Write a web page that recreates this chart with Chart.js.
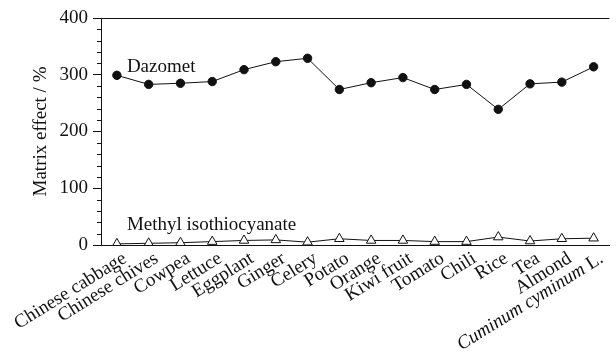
<!DOCTYPE html>
<html>
<head>
<meta charset="utf-8">
<script src="https://cdn.jsdelivr.net/npm/chart.js@4"></script>
<style>
  html, body { margin: 0; padding: 0; background: #fff; }
  #wrap { width: 616px; height: 358px; }
</style>
</head>
<body>
<div id="wrap"><canvas id="matrix-chart"></canvas></div>
<script>
const categories = ['Chinese cabbage', 'Chinese chives', 'Cowpea', 'Lettuce', 'Eggplant', 'Ginger', 'Celery', 'Potato',
    'Orange', 'Kiwi fruit', 'Tomato', 'Chili', 'Rice', 'Tea', 'Almond', 'Cuminum cyminum L.'];
const dazomet = [299, 283, 285, 288, 309, 323, 329, 274, 286, 295, 274, 283, 239, 284, 287, 314];
const mitc = [2, 3, 4, 6, 8, 9, 5, 11, 8, 8, 6, 6, 14, 7, 11, 12];
const yTicks = [0, 100, 200, 300, 400];

const FONT = '"Liberation Serif", "Times New Roman", serif';
const INK = '#111';

// extra drawing: frame top line, minor ticks, rotated x labels, series names
const decor = {
    id: 'decor',
    afterDraw(chart) {
        const ctx = chart.ctx;
        const area = chart.chartArea;
        const x = chart.scales.x;
        const y = chart.scales.y;
        ctx.save();
        ctx.strokeStyle = INK;
        ctx.lineWidth = 1;

        // top frame line
        ctx.beginPath();
        ctx.moveTo(area.left, Math.round(area.top) + 0.5);
        ctx.lineTo(area.right, Math.round(area.top) + 0.5);
        ctx.stroke();

        // minor ticks every 20
        for (let v = 20; v < 400; v += 20) {
            if (v % 100 === 0) continue;
            const py = Math.round(y.getPixelForValue(v)) + 0.5;
            ctx.beginPath();
            ctx.moveTo(area.left - 4, py);
            ctx.lineTo(area.left, py);
            ctx.stroke();
        }

        // rotated category labels
        ctx.fillStyle = INK;
        ctx.textAlign = 'right';
        ctx.textBaseline = 'top';
        categories.forEach((label, i) => {
            const px = x.getPixelForTick(i);
            ctx.save();
            ctx.translate(px + 3, area.bottom + 4);
            ctx.rotate(-32 * Math.PI / 180);
            if (label === 'Cuminum cyminum L.') {
                ctx.font = '19px ' + FONT;
                const tail = ' L.';
                ctx.fillText(tail, 0, 0);
                const w = ctx.measureText(tail).width;
                ctx.font = 'italic 19px ' + FONT;
                ctx.fillText('Cuminum cyminum', -w, 0);
            } else {
                ctx.font = '19px ' + FONT;
                ctx.fillText(label, 0, 0);
            }
            ctx.restore();
        });

        // series names
        ctx.font = '19px ' + FONT;
        ctx.textAlign = 'left';
        ctx.textBaseline = 'alphabetic';
        const lx = x.getPixelForTick(0) + 10;
        ctx.fillText('Dazomet', lx, y.getPixelForValue(305));
        ctx.fillText('Methyl isothiocyanate', lx, y.getPixelForValue(26));
        ctx.restore();
    }
};

new Chart(document.getElementById('matrix-chart'), {
    type: 'line',
    data: {
        labels: categories,
        datasets: [
            {
                label: 'Dazomet',
                data: dazomet,
                borderColor: INK,
                borderWidth: 1,
                pointStyle: 'circle',
                pointRadius: 4.2,
                pointBackgroundColor: INK,
                pointBorderColor: INK,
                tension: 0,
            },
            {
                label: 'Methyl isothiocyanate',
                data: mitc,
                borderColor: INK,
                borderWidth: 1,
                pointStyle: 'triangle',
                pointRadius: 5.5,
                pointBackgroundColor: '#fff',
                pointBorderColor: INK,
                pointBorderWidth: 1,
                tension: 0,
            }
        ]
    },
    options: {
        responsive: true,
        maintainAspectRatio: false,
        animation: false,
        layout: { padding: { top: 18, right: 0, left: 0, bottom: 0 } },
        plugins: {
            legend: { display: false },
            tooltip: { enabled: false }
        },
        scales: {
            x: {
                offset: true,
                grid: { display: false },
                border: { display: true, color: INK, width: 1 },
                ticks: { display: false },
                afterFit: (scale) => { scale.height = 113; }
            },
            y: {
                min: 0,
                max: 400,
                afterBuildTicks: (scale) => { scale.ticks = yTicks.map(v => ({ value: v })); },
                grid: { drawOnChartArea: false, tickLength: 8, color: INK },
                border: { display: true, color: INK, width: 1 },
                ticks: {
                    padding: 5,
                    color: INK,
                    font: { family: FONT, size: 19 }
                },
                title: {
                    display: true,
                    text: 'Matrix effect / %',
                    color: INK,
                    padding: { top: 30, bottom: 0 },
                    font: { family: FONT, size: 19 }
                },
                afterFit: (scale) => { scale.width = 101; }
            }
        }
    },
    plugins: [decor]
});
</script>
</body>
</html>
